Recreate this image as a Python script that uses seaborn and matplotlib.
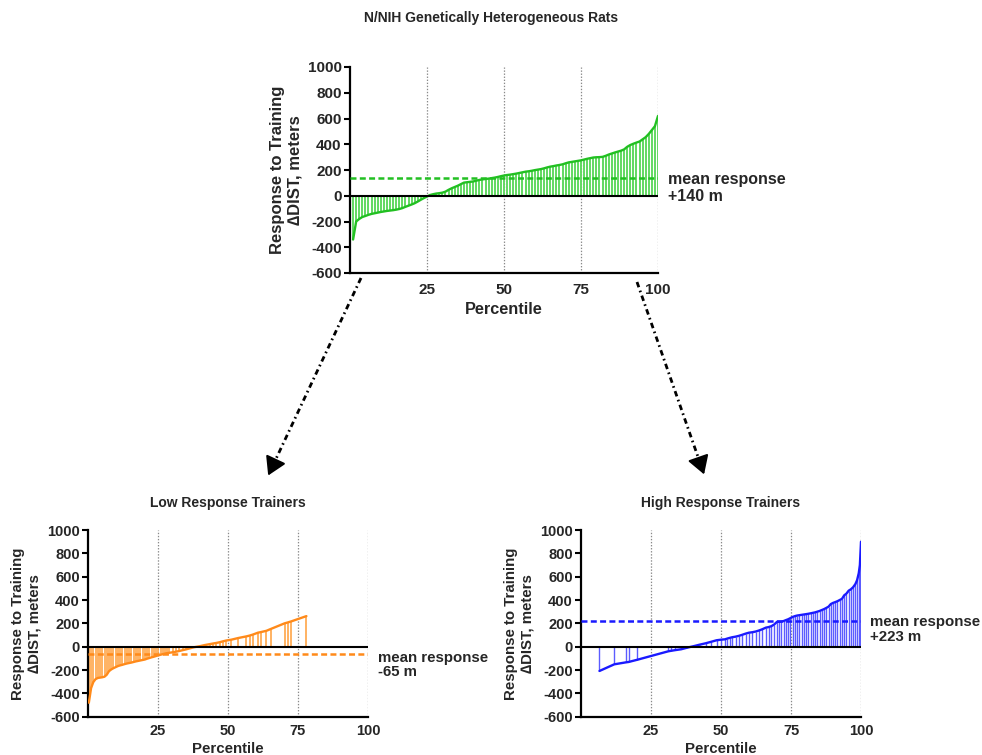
import numpy as np
import pandas as pd
import matplotlib
matplotlib.use("Agg")
import matplotlib.pyplot as plt
import seaborn as sns
from matplotlib.lines import Line2D
from matplotlib.patches import FancyArrowPatch
import matplotlib.transforms as mtransforms

# ---------------- data ----------------
top_values = [-340, -200, -180, -165, -157, -148, -141, -136, -131, -126,
              -122, -118, -115, -112, -108, -103, -96, -86, -77, -68,
              -58, -45, -31, -18, -6, 6, 12, 17, 20, 24,
              32, 46, 58, 68, 78, 90, 102, 105, 108, 111,
              117, 123, 127, 130, 133, 137, 141, 146, 152, 157,
              161, 164, 168, 172, 177, 182, 187, 190, 194, 199,
              203, 207, 213, 220, 226, 230, 235, 239, 244, 252,
              259, 263, 267, 271, 275, 281, 287, 292, 297, 299,
              300, 302, 310, 320, 328, 336, 343, 350, 360, 380,
              394, 404, 413, 421, 438, 455, 480, 510, 540, 620]
top_mean = 140

low_pct = [0.3, 1.1, 1.9, 2.7, 3.5, 4.3, 5.1, 5.9, 6.7, 7.5,
           8.3, 9.1, 9.9, 10.7, 11.5, 12.3, 13.1, 13.9, 14.7, 15.5,
           16.3, 17.1, 17.9, 18.7, 19.5, 20.3, 21.1, 21.9, 22.7, 23.5,
           24.3, 25.1, 25.9, 26.7, 27.5, 28.3, 29.1, 30.2, 31.4, 32.6,
           33.8, 35.0, 36.4, 37.8,
           39.9, 41.7, 43.5, 44.6, 45.8, 47.0, 48.2, 49.4, 51.2, 53.6,
           56.5, 57.7, 58.9, 60.7, 61.9, 63.7, 65.5, 70.2, 71.4, 72.6, 78.0]
low_values = [-480, -355, -303, -278, -268, -265, -262, -257, -240, -210,
              -195, -184, -175, -166, -160, -155, -149, -144, -140, -136,
              -131, -126, -122, -118, -114, -110, -103, -97, -91, -86,
              -80, -74, -69, -64, -59, -55, -52, -48, -43, -37,
              -30, -23, -14, -5,
              4, 14, 22, 27, 32, 38, 46, 53, 60, 74,
              88, 95, 104, 120, 126, 136, 154, 200, 208, 217, 262]
low_mean = -65

high_pct = [6.6, 11.9, 16.1, 17.0, 20.1, 31.1, 32.0, 33.5, 35.8, 38.0,
            40.5, 42.5, 44.5, 46.5, 48.4, 50.0, 51.4, 52.3, 53.2, 54.0,
            55.2, 56.4, 57.6, 58.8, 60.0, 61.2, 62.4, 63.6, 64.8, 66.0,
            67.0, 68.0, 69.0, 70.0, 70.8, 71.6, 72.4, 73.2, 74.0, 74.8,
            75.6, 76.4, 77.2, 78.0, 78.8, 79.6, 80.4, 81.2, 82.0, 82.8,
            83.6, 84.4, 85.2, 86.0, 86.8, 87.6, 88.4, 89.2, 90.0, 90.8,
            91.6, 92.4, 93.2, 94.0, 94.8, 95.6, 96.4, 97.2, 98.0, 98.6,
            99.2, 99.6, 100.0]
high_values = [-208, -151, -134, -131, -112, -40, -36, -30, -22, -8,
               6, 18, 29, 42, 55, 60, 63, 70, 76, 81,
               86, 93, 102, 112, 120, 124, 130, 139, 150, 163,
               168, 176, 190, 213, 214, 215, 220, 228, 235, 245,
               255, 262, 267, 270, 273, 276, 279, 282, 286, 290,
               294, 300, 306, 314, 322, 332, 343, 365, 375, 382,
               390, 400, 410, 440, 455, 480, 492, 510, 537, 570,
               630, 700, 900]
high_mean = 223

x_ticks = [25, 50, 75, 100]
y_ticks = [-600, -400, -200, 0, 200, 400, 600, 800, 1000]

main_title = "N/NIH Genetically Heterogeneous Rats"
low_title = "Low Response Trainers"
high_title = "High Response Trainers"
y_label = "Response to Training\n\u2206DIST, meters"
x_label = "Percentile"

# ---------------- style ----------------
sns.set_theme(style="ticks")
plt.rcParams['font.family'] = ['Liberation Sans', 'DejaVu Sans']
plt.rcParams['font.weight'] = 'bold'
plt.rcParams['axes.labelweight'] = 'bold'
plt.rcParams['lines.scale_dashes'] = False

fig = plt.figure(figsize=(9.82, 7.55), dpi=100)
W, H = 982, 755
ax_top = fig.add_axes([350 / W, 1 - 273 / H, 308 / W, 206 / H])
ax_low = fig.add_axes([88 / W, 1 - 716.7 / H, 280 / W, 186.7 / H])
ax_high = fig.add_axes([581 / W, 1 - 716.7 / H, 280 / W, 186.7 / H])


def draw(ax, pct, vals, mean, line_c, drop_c, drop_lw, fs_tick, fs_lab, fs_ylab, xpad, xlabpad,
         txt_y, txt_fs, txt_x, txt_ls, ylab_ls):
    ax.set_xlim(0, 100)
    ax.set_ylim(-600, 1000)
    for xg in x_ticks:
        ax.axvline(xg, color='#8a8a8a', ls=(0, (1.0, 1.2)), lw=0.9, zorder=0)
    ax.vlines(pct, 0, vals, color=drop_c, lw=drop_lw, zorder=1)
    df = pd.DataFrame({"Percentile": pct, "value": vals})
    sns.lineplot(data=df, x="Percentile", y="value", ax=ax, color=line_c,
                 lw=1.7, estimator=None, sort=True, zorder=3)
    ax.axhline(0, color='black', lw=1.5, zorder=4)
    ax.axhline(mean, color=line_c, ls=(0, (4.3, 2.4)), lw=1.8, zorder=5)
    ax.set_xticks(x_ticks)
    ax.set_yticks(y_ticks)
    ax.set_xticklabels([str(t) for t in x_ticks], fontsize=fs_tick, fontweight='bold')
    ax.set_yticklabels([str(t) for t in y_ticks], fontsize=fs_tick, fontweight='bold')
    ax.tick_params(axis='x', length=0, pad=xpad)
    ax.tick_params(axis='y', length=4, width=1.5, pad=2, color='black')
    for s in ['top', 'right']:
        ax.spines[s].set_visible(False)
    for s in ['left', 'bottom']:
        ax.spines[s].set_linewidth(1.6)
        ax.spines[s].set_color('black')
    ax.set_xlabel(x_label, fontsize=fs_lab, fontweight='bold', labelpad=xlabpad)
    ax.set_ylabel(y_label, fontsize=fs_ylab, fontweight='bold',
                  labelpad=4, linespacing=ylab_ls)
    ax.grid(False)
    tr = mtransforms.blended_transform_factory(ax.transAxes, ax.transData)
    sign = "+" if mean > 0 else ""
    ax.text(txt_x, txt_y, "mean response\n%s%d m" % (sign, mean), transform=tr,
            ha='left', va='center', fontsize=txt_fs, fontweight='bold', linespacing=txt_ls)


top_pct = list(np.arange(1, len(top_values) + 1) * 100.0 / len(top_values))
draw(ax_top, top_pct, top_values, top_mean, '#22c022', '#62d862', 1.4,
     11, 11.7, 12.0, 7, 4, 62, 11.5, 1.032, 1.15, 1.2)
draw(ax_low, low_pct, low_values, low_mean, '#ff8a1a', '#ffa648', 1.2,
     10.5, 10.8, 10.8, 5, 3, -156, 10.8, 1.036, 1.05, 1.2)
draw(ax_high, high_pct, high_values, high_mean, '#1a1aff', '#5c5cff', 1.0,
     10.5, 10.8, 10.8, 5, 3, 146, 10.8, 1.032, 1.05, 1.2)

ax_low.text(0.5, 1 + 27 / 186.7, low_title, transform=ax_low.transAxes,
            ha='center', va='center', fontsize=10, fontweight='bold')
ax_high.text(0.5, 1 + 27 / 186.7, high_title, transform=ax_high.transAxes,
             ha='center', va='center', fontsize=10, fontweight='bold')
fig.text(0.5, 1 - 18 / H, main_title, ha='center', va='center', fontsize=10, fontweight='bold')


def dash_arrow(p0, p1):
    x0, y0 = p0[0] / W, 1 - p0[1] / H
    x1, y1 = p1[0] / W, 1 - p1[1] / H
    dx, dy = x1 - x0, y1 - y0
    f = 0.93
    xm, ym = x0 + dx * f, y0 + dy * f
    ln = Line2D([x0, xm], [y0, ym], transform=fig.transFigure, color='black',
                lw=2.0, ls=(0, (4.0, 2.6, 1.2, 2.6)), solid_capstyle='butt')
    fig.add_artist(ln)
    arr = FancyArrowPatch((xm - dx * 0.02, ym - dy * 0.02), (x1, y1), transform=fig.transFigure,
                          arrowstyle='-|>,head_length=0.5,head_width=0.3', mutation_scale=22,
                          color='black', lw=1.5)
    fig.add_artist(arr)


dash_arrow((361, 278), (267, 478))
dash_arrow((637, 282), (705, 477))

fig.savefig("out.png", dpi=100)
